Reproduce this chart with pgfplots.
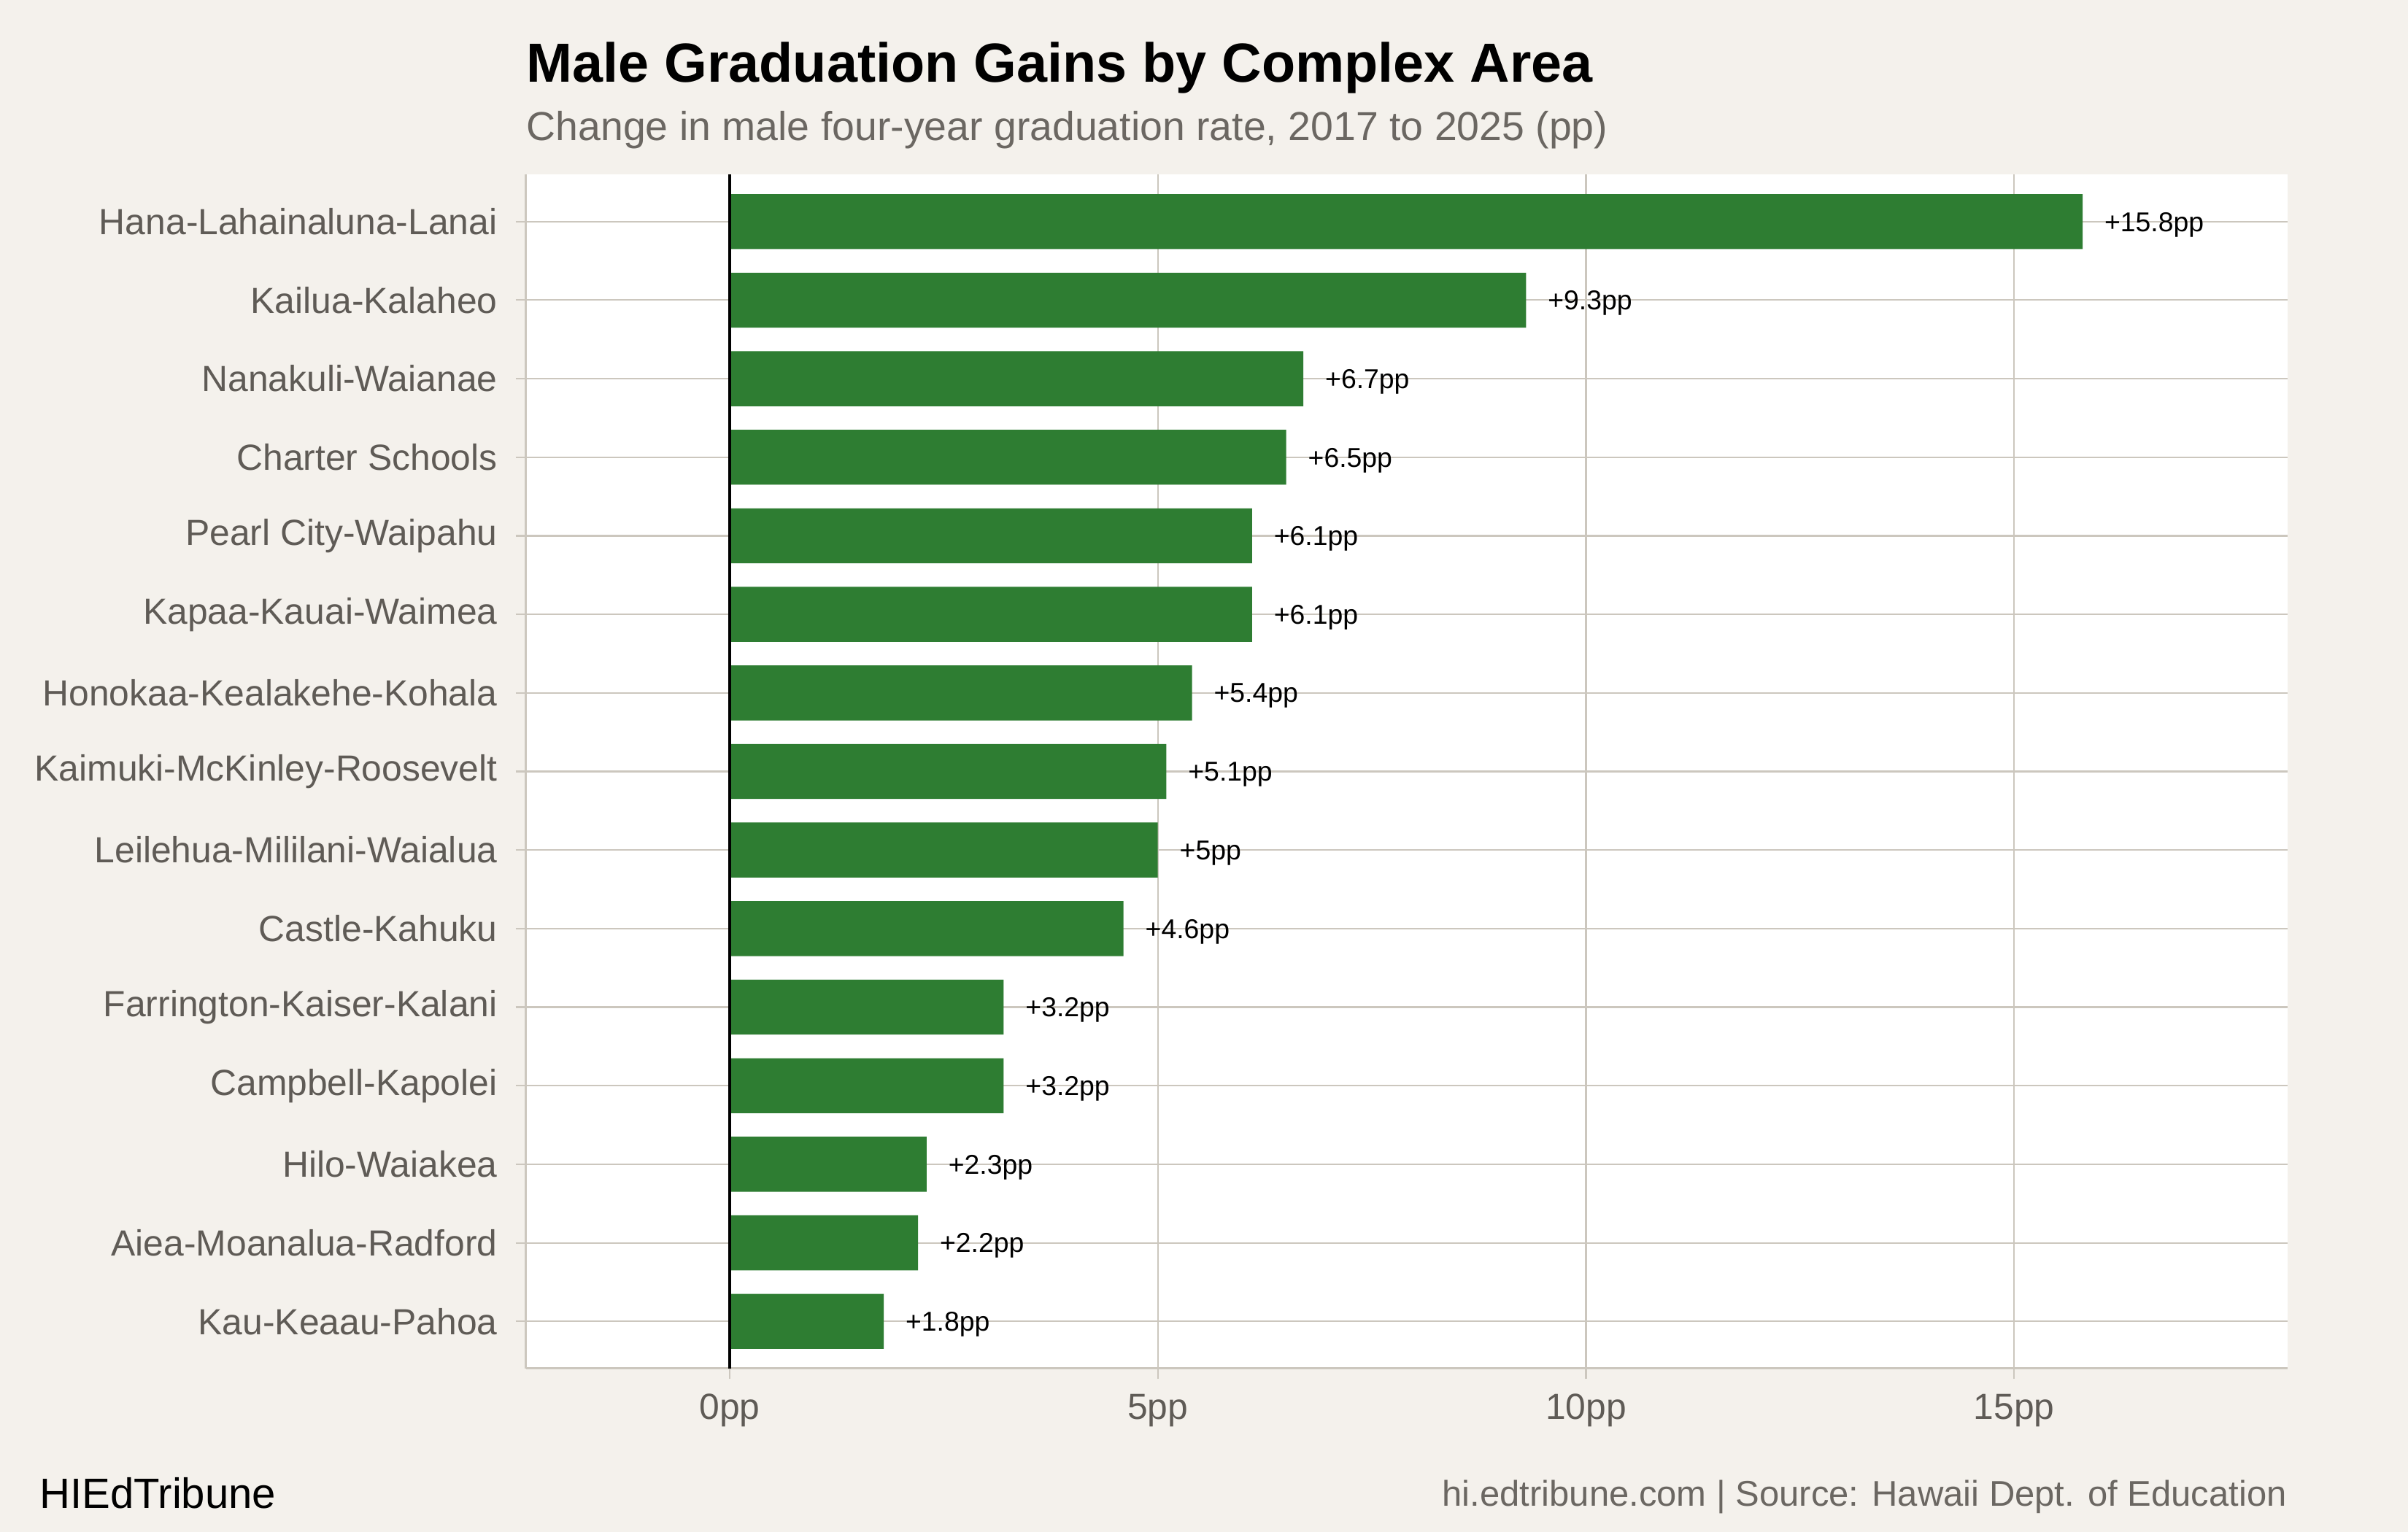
\documentclass[border=0pt]{standalone}
\usepackage{fontspec}
\setmainfont{Liberation Sans}
\usepackage{pgfplots}
\pgfplotsset{compat=1.18}
\usepackage{pgfplotstable}
\definecolor{bg}{HTML}{F4F1EC}
\definecolor{gridc}{HTML}{CCC7BE}
\definecolor{barg}{HTML}{2E7D32}
\definecolor{txtg}{HTML}{5F5B56}
\definecolor{subg}{HTML}{6B6762}

\pgfplotstableread{
pos val
0 15.8
1 9.3
2 6.7
3 6.5
4 6.1
5 6.1
6 5.4
7 5.1
8 5.0
9 4.6
10 3.2
11 3.2
12 2.3
13 2.2
14 1.8
}\data

\begin{document}
\begin{tikzpicture}
\useasboundingbox (0,0) rectangle (792bp,504bp);
\fill[bg] (0,0) rectangle (792bp,504bp);
\begin{axis}[
  at={(173bp,53.8bp)}, anchor=south west,
  scale only axis, width=579.3bp, height=392.8bp,
  xmin=-2.378, xmax=18.19, ymin=-0.6, ymax=14.6, y dir=reverse,
  axis background/.style={fill=white},
  axis lines*=left,
  axis line style={gridc, line width=0.65bp},
  xtick={0,5,10,15}, xticklabels={0pp,5pp,10pp,15pp},
  ytick={0,...,14},
  yticklabels={Hana-Lahainaluna-Lanai,Kailua-Kalaheo,Nanakuli-Waianae,Charter Schools,Pearl City-Waipahu,Kapaa-Kauai-Waimea,Honokaa-Kealakehe-Kohala,Kaimuki-McKinley-Roosevelt,Leilehua-Mililani-Waialua,Castle-Kahuku,Farrington-Kaiser-Kalani,Campbell-Kapolei,Hilo-Waiakea,Aiea-Moanalua-Radford,Kau-Keaau-Pahoa},
  tick align=outside, major tick length=3.4bp,
  tick style={gridc, line width=0.5bp},
  grid=major, major grid style={gridc, line width=0.5bp},
  ticklabel style={font=\fontsize{12}{14}\selectfont, text=txtg},
  yticklabel style={xshift=-2.5bp},
  xticklabel style={yshift=-1.5bp},
  /pgf/number format/assume math mode=true,
  clip=false,
]
\addplot[xbar, bar width=0.7, fill=barg, draw=none,
  point meta=x,
  nodes near coords={+\pgfmathprintnumber{\pgfplotspointmeta}pp},
  nodes near coords style={font=\fontsize{9}{10}\selectfont, black, anchor=west, inner sep=0pt, xshift=7bp, yshift=-1bp}]
  table[x=val, y=pos] {\data};
\addplot[sharp plot, black, line width=1bp, no marks] coordinates {(0,-0.6) (0,14.6)};
\end{axis}
\node[anchor=base west, inner sep=0pt] at (173bp,477.1bp) {\fontsize{18.2}{21}\selectfont\bfseries Male Graduation Gains by Complex Area};
\node[anchor=base west, inner sep=0pt, text=subg] at (173bp,457.9bp) {\fontsize{13.35}{15}\selectfont Change in male four-year graduation rate, 2017 to 2025 (pp)};
\node[anchor=base west, inner sep=0pt] at (12.8bp,7.9bp) {\fontsize{14}{16}\selectfont HIEdTribune};
\node[anchor=base east, inner sep=0pt, text=subg] at (752.3bp,8.5bp) {\fontsize{11.8}{14}\selectfont hi.edtribune.com | Source: Hawaii Dept. of Education};
\end{tikzpicture}
\end{document}
